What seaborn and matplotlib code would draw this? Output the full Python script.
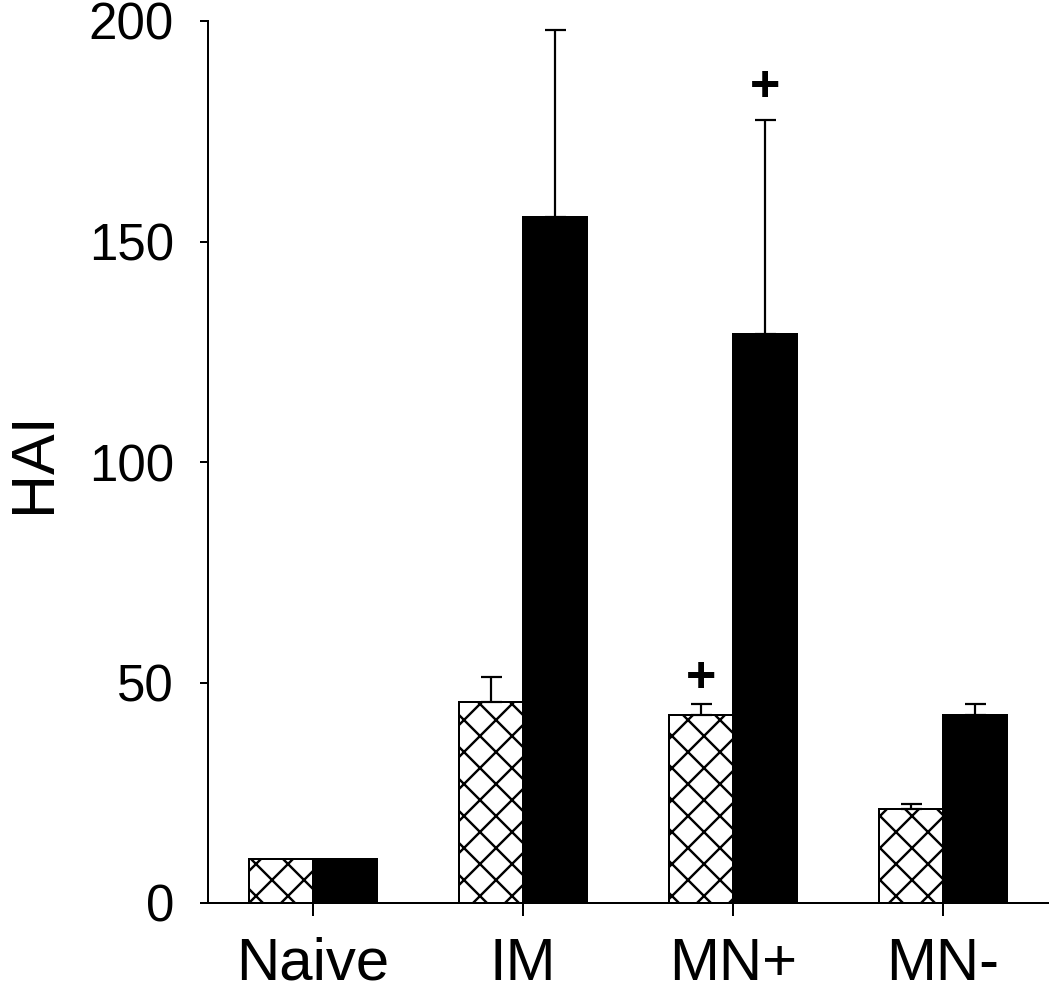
"""
plot.py
-------
HAI titres per immunisation group: hatched bars (first series) and
solid black bars (second series) with upper-only SD error bars and
significance marks.
"""

import numpy as np
import pandas as pd
import matplotlib
matplotlib.use("Agg")
import matplotlib.pyplot as plt
import seaborn as sns

# dpi chosen so matplotlib's fixed hatch pitch matches the reference diamonds
DPI = 192
W_PX, H_PX = 1050, 994

groups = ["Naive", "IM", "MN+", "MN-"]
series = ["prime", "boost"]
prime_hai = [10.0, 45.6, 42.6, 21.3]
prime_err = [0.0, 5.6, 2.5, 1.2]
boost_hai = [10.0, 155.6, 129.0, 42.6]
boost_err = [0.0, 42.3, 48.6, 2.5]

# significance marks: (group, series, y position)
sig_groups = ["MN+", "MN+"]
sig_series = ["prime", "boost"]
sig_y = [51.0, 185.0]

y_ticks = [0, 50, 100, 150, 200]

sns.set_style("ticks")
plt.rcParams["font.family"] = ["Liberation Sans", "DejaVu Sans"]
plt.rcParams["hatch.linewidth"] = 0.9
plt.rcParams["hatch.color"] = "black"
for key in ["text.color", "axes.labelcolor", "xtick.color", "ytick.color",
            "axes.edgecolor"]:
    plt.rcParams[key] = "black"


def px(v):
    # pixels -> points at the figure dpi
    return v * 72.0 / DPI


def main():
    df = pd.DataFrame({
        "group": groups * 2,
        "series": [series[0]] * len(groups) + [series[1]] * len(groups),
        "HAI": prime_hai + boost_hai,
    })
    errs = {series[0]: prime_err, series[1]: boost_err}

    fig = plt.figure(figsize=(W_PX / DPI, H_PX / DPI), dpi=DPI)
    ax = fig.add_axes([208 / W_PX, (H_PX - 903) / H_PX, 840 / W_PX, 882 / H_PX])

    sns.barplot(data=df, x="group", y="HAI", hue="series", order=groups,
                hue_order=series, palette=["white", "black"], width=0.605,
                errorbar=None, legend=False, edgecolor="black",
                linewidth=px(2), ax=ax)

    for patch in ax.containers[0]:
        patch.set_hatch("xx")

    centers = {}
    for name, cont in zip(series, ax.containers):
        xs = np.array([p.get_x() + p.get_width() / 2 for p in cont])
        hs = np.array([p.get_height() for p in cont])
        err = np.array(errs[name])
        keep = err > 0
        ax.errorbar(xs[keep], hs[keep], yerr=[np.zeros(keep.sum()), err[keep]],
                    fmt="none", ecolor="black", elinewidth=px(2.2),
                    capsize=px(10.5), capthick=px(2.2), zorder=1)
        centers[name] = dict(zip(groups, xs))

    for g, s, y in zip(sig_groups, sig_series, sig_y):
        ax.text(centers[s][g], y, "+", ha="center", va="center",
                fontsize=px(52), fontweight="bold")

    ax.set_xlim(-0.5, len(groups) - 0.5)
    ax.set_ylim(0, 200)
    ax.set_yticks(y_ticks)
    ax.set_xlabel("")
    ax.set_ylabel("HAI", fontsize=px(61), labelpad=px(26))

    sns.despine(ax=ax)
    for side in ["left", "bottom"]:
        ax.spines[side].set_linewidth(px(2))
    ax.tick_params(axis="y", length=px(8), width=px(2), pad=px(26),
                   labelsize=px(51))
    ax.tick_params(axis="x", length=px(13), width=px(2), pad=px(21),
                   labelsize=px(60))

    fig.savefig("out.png", dpi=DPI)
    plt.close(fig)


if __name__ == "__main__":
    main()
